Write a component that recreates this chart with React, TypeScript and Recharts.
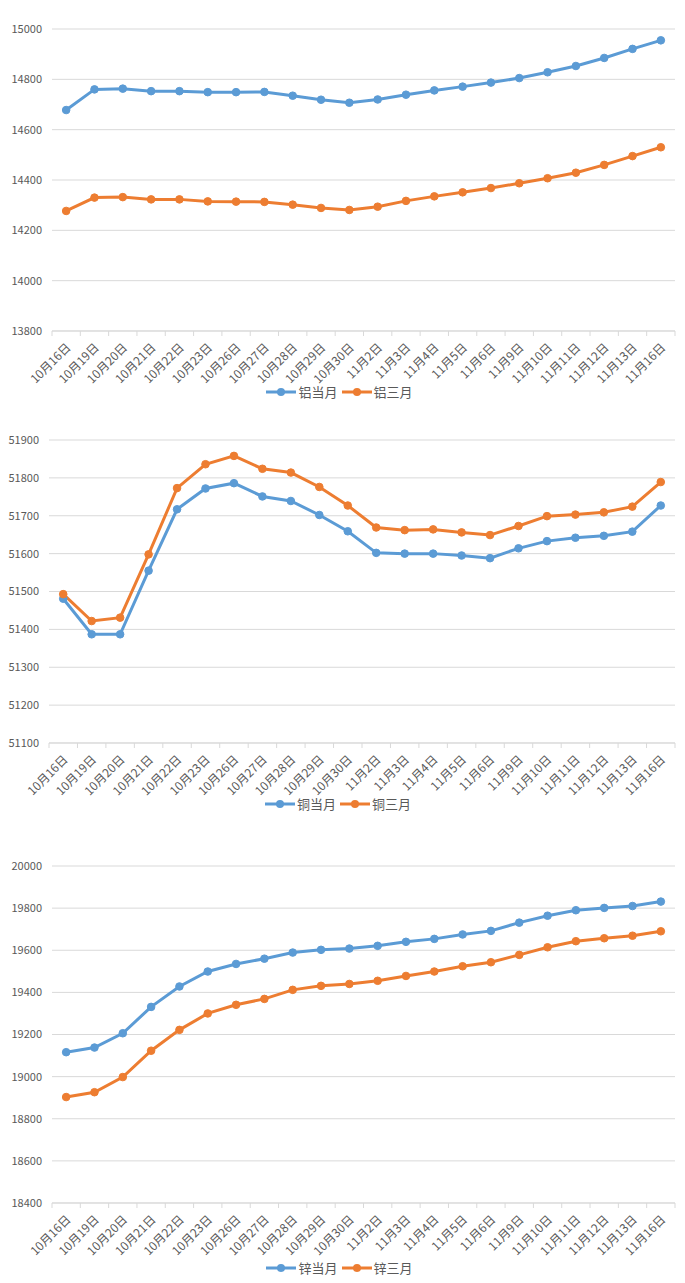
import React from "react";
import { LineChart, Line, XAxis, YAxis, CartesianGrid, Legend } from "recharts";

const categories = ["10月16日","10月19日","10月20日","10月21日","10月22日","10月23日","10月26日","10月27日","10月28日","10月29日","10月30日","11月2日","11月3日","11月4日","11月5日","11月6日","11月9日","11月10日","11月11日","11月12日","11月13日","11月16日"];

const alCur = [14678,14760,14763,14753,14753,14749,14749,14750,14735,14719,14707,14720,14739,14756,14771,14787,14805,14828,14853,14885,14921,14955];
const alThree = [14277,14330,14332,14323,14323,14315,14314,14313,14302,14289,14281,14294,14317,14335,14351,14368,14387,14407,14429,14460,14495,14530];

const cuCur = [51481,51387,51387,51555,51717,51772,51786,51751,51739,51702,51659,51602,51600,51600,51595,51588,51614,51633,51642,51647,51658,51727];
const cuThree = [51493,51422,51431,51598,51773,51836,51858,51824,51814,51776,51727,51669,51662,51664,51656,51649,51673,51699,51703,51709,51724,51789];

const znCur = [19116,19138,19206,19331,19428,19499,19535,19560,19589,19602,19608,19621,19640,19654,19675,19692,19731,19764,19790,19801,19810,19831];
const znThree = [18903,18926,18998,19123,19222,19300,19341,19369,19412,19431,19440,19455,19478,19499,19524,19543,19578,19614,19643,19657,19669,19690];

const alTicks = [13800,14000,14200,14400,14600,14800,15000];
const cuTicks = [51100,51200,51300,51400,51500,51600,51700,51800,51900];
const znTicks = [18400,18600,18800,19000,19200,19400,19600,19800,20000];

const BLUE = "#5B9BD5";
const ORANGE = "#ED7D31";
const TEXT = "#595959";
const GRID = "#D9D9D9";
const FONT = "'Noto Sans CJK SC', 'Noto Sans', sans-serif";

function build(a: number[], b: number[]) {
  return categories.map((c, i) => ({ name: c, cur: a[i], three: b[i] }));
}

const XTick = (props: any) => {
  const { x, y, payload, index } = props;
  const off = payload.offset || 0;
  const last = index === categories.length - 1;
  const ax = x + 3;
  const ay = y + 7;
  return (
    <g>
      <line x1={x - off} y1={y - 8} x2={x - off} y2={y - 3} stroke={GRID} />
      {last && <line x1={x + off} y1={y - 8} x2={x + off} y2={y - 3} stroke={GRID} />}
      <text
        x={ax}
        y={ay}
        transform={`rotate(-45 ${ax} ${ay})`}
        textAnchor="end"
        fontSize={12}
        fill={TEXT}
        fontFamily={FONT}
        dominantBaseline="middle"
      >
        {payload.value}
      </text>
    </g>
  );
};

const LegendContent = (props: any) => {
  const { labels } = props;
  const items = [
    { label: labels[0], color: BLUE },
    { label: labels[1], color: ORANGE },
  ];
  return (
    <div style={{ display: "flex", justifyContent: "center", alignItems: "center", fontFamily: FONT, fontSize: 13, color: TEXT }}>
      {items.map((it) => (
        <div key={it.label} style={{ display: "flex", alignItems: "center", marginRight: 4 }}>
          <svg width={30} height={10} style={{ marginRight: 2 }}>
            <line x1={0} y1={5} x2={30} y2={5} stroke={it.color} strokeWidth={3} />
            <circle cx={15} cy={5} r={4} fill={it.color} />
          </svg>
          <span>{it.label}</span>
        </div>
      ))}
    </div>
  );
};

type PanelProps = {
  top: number;
  height: number;
  marginTop: number;
  marginBottom: number;
  xHeight: number;
  left: number;
  domain: [number, number];
  ticks: number[];
  a: number[];
  b: number[];
  labels: [string, string];
};

const Panel = (p: PanelProps) => {
  const data = build(p.a, p.b);
  return (
    <div style={{ position: "absolute", left: 0, top: p.top }}>
      <LineChart
        width={685}
        height={p.height}
        data={data}
        margin={{ top: p.marginTop, right: 10, left: p.left - 44, bottom: p.marginBottom }}
      >
        <CartesianGrid vertical={false} stroke={GRID} strokeWidth={1} />
        <XAxis
          dataKey="name"
          scale="band"
          interval={0}
          height={p.xHeight}
          tick={<XTick />}
          tickLine={false}
          axisLine={{ stroke: GRID }}
        />
        <YAxis
          domain={p.domain}
          ticks={p.ticks}
          width={44}
          axisLine={false}
          tickLine={false}
          tick={{ fontSize: 11, fill: TEXT, fontFamily: FONT }}
          tickMargin={4}
          allowDataOverflow
        />
        <Legend verticalAlign="bottom" height={20} content={<LegendContent labels={p.labels} />} />
        <Line dataKey="cur" name={p.labels[0]} stroke={BLUE} strokeWidth={3} dot={{ r: 3.8, fill: BLUE, stroke: BLUE, strokeWidth: 1 }} isAnimationActive={false} />
        <Line dataKey="three" name={p.labels[1]} stroke={ORANGE} strokeWidth={3} dot={{ r: 3.8, fill: ORANGE, stroke: ORANGE, strokeWidth: 1 }} isAnimationActive={false} />
      </LineChart>
    </div>
  );
};

export default function App() {
  return (
    <div style={{ position: "absolute", left: 0, top: 0, width: 685, height: 1283, background: "#fff", overflow: "hidden" }}>
      <Panel top={0} height={410} marginTop={29} marginBottom={8} xHeight={51} left={52} domain={[13800, 15000]} ticks={alTicks} a={alCur} b={alThree} labels={["铝当月", "铝三月"]} />
      <Panel top={420} height={400} marginTop={20} marginBottom={6} xHeight={51} left={49} domain={[51100, 51900]} ticks={cuTicks} a={cuCur} b={cuThree} labels={["铜当月", "铜三月"]} />
      <Panel top={830} height={453} marginTop={36} marginBottom={5} xHeight={55} left={52} domain={[18400, 20000]} ticks={znTicks} a={znCur} b={znThree} labels={["锌当月", "锌三月"]} />
    </div>
  );
}
